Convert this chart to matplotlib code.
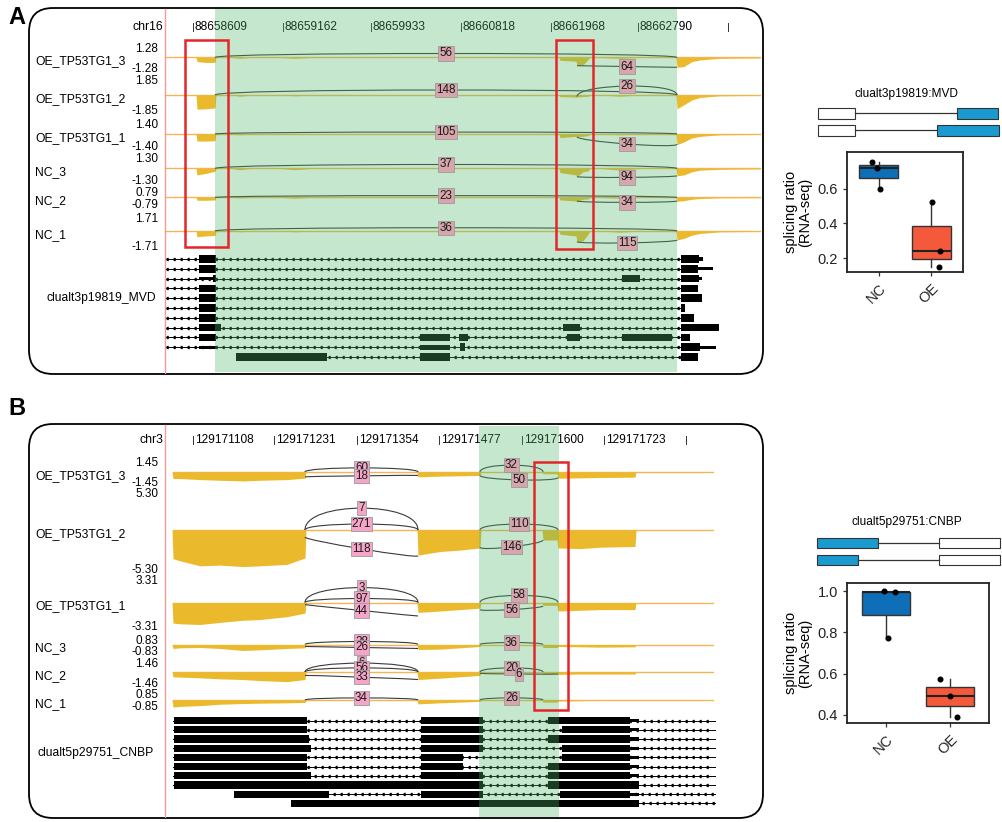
import numpy as np
import matplotlib
matplotlib.use('Agg')
import matplotlib.pyplot as plt
from matplotlib.patches import FancyBboxPatch, Rectangle, PathPatch
from matplotlib.path import Path

plt.rcParams['font.family'] = ['Liberation Sans', 'DejaVu Sans']

W, H = 1003, 822

# ---------------- data ----------------
samples = ['OE_TP53TG1_3', 'OE_TP53TG1_2', 'OE_TP53TG1_1', 'NC_3', 'NC_2', 'NC_1']

# panel A (chr16, MVD)
chrom_A = 'chr16'
ticks_A = [193, 283, 371, 461, 551, 638, 728]
tick_labels_A = ['88658609', '88659162', '88659933', '88660818', '88661968', '88662790', '']
ymax_A = [1.28, 1.85, 1.40, 1.30, 0.79, 1.71]
cov_x_A = [196, 197, 206, 215, 216, 232, 240, 250, 280, 295, 310, 559, 560, 576, 577, 583,
           588, 590, 600, 620, 640, 676, 677, 684, 692, 700, 720, 760]
cov_A = [
    [0, 0.5, 0.6, 0.6, 0, 0, 0.1, 0, 0, 0.1, 0, 0, 0.35, 0.45, 1.0, 0.9, 0.25, 0, 0, 0.1, 0, 0, 1.2, 1.1, 0.5, 0.3, 0.1, 0.05],
    [0, 1.75, 1.7, 1.6, 0, 0, 0.15, 0, 0, 0.1, 0, 0, 0.2, 0.25, 0.25, 0.2, 0.15, 0, 0, 0.15, 0, 0, 1.7, 1.2, 0.6, 0.3, 0.1, 0.05],
    [0, 0.9, 0.9, 0.85, 0, 0, 0.1, 0, 0, 0.05, 0, 0, 0.45, 0.3, 0.3, 0.3, 0.2, 0, 0, 0.1, 0, 0, 1.35, 1.0, 0.5, 0.3, 0.1, 0.05],
    [0, 0.8, 0.6, 0.35, 0, 0, 0.15, 0, 0, 0.15, 0, 0, 0.5, 0.8, 1.0, 0.4, 0.3, 0, 0, 0.2, 0, 0, 0.9, 0.8, 0.4, 0.2, 0.1, 0.05],
    [0, 0.4, 0.4, 0.35, 0, 0, 0.05, 0, 0, 0.1, 0, 0, 0.35, 0.5, 0.55, 0.25, 0.2, 0, 0, 0.1, 0, 0, 0.55, 0.45, 0.25, 0.15, 0.05, 0.03],
    [0, 0.7, 0.6, 0.55, 0, 0, 0.1, 0, 0, 0.1, 0, 0, 0.4, 0.6, 1.3, 1.2, 0.4, 0, 0, 0.15, 0, 0, 1.1, 0.9, 0.5, 0.3, 0.1, 0.05],
]
baseline_A = [165, 760]
arc_track_A = [0, 0, 1, 1, 2, 2, 3, 3, 4, 4, 5, 5]
arc_x0_A = [215, 577] * 6
arc_x1_A = [677, 677] * 6
arc_y0_A = [0, -1.0, 0, -0.2, 0, -0.35, 0, -1.0, 0, -0.5, 0, -1.3]
arc_y1_A = [0, -1.2, 0, 0, 0, -1.3, 0, -0.9, 0, -0.5, 0, -1.1]
arc_peak_A = [0.49, -1.1, 0.62, 1.1, 0.25, -1.27, 0.5, -1.1, 0.28, -0.7, 0.4, -1.45]
arc_n_A = [56, 64, 148, 26, 105, 34, 37, 94, 23, 34, 36, 115]
tx_name_A = 'clualt3p19819_MVD'
tx_start_A = [165] * 10 + [236]
tx_end_A = [681] * 11
tx_exons_A = [
    [(199, 216, 1), (681, 699, 1), (699, 703, 0)],
    [(199, 216, 1), (681, 698, 1), (698, 713, 0)],
    [(199, 213, 0), (213, 216, 1), (622, 640, 1), (681, 699, 1), (699, 702, 0)],
    [(199, 216, 1), (681, 698, 1)],
    [(199, 216, 1), (681, 702, 1)],
    [(199, 216, 1), (681, 685, 1)],
    [(199, 216, 1), (681, 694, 1)],
    [(199, 221, 1), (563, 580, 1), (681, 719, 1)],
    [(199, 216, 1), (420, 450, 1), (459, 468, 1), (567, 580, 1), (622, 672, 1), (681, 690, 1)],
    [(199, 216, 0), (420, 450, 0.7), (460, 465, 1), (681, 700, 1), (700, 716, 0)],
    [(236, 327, 1), (420, 450, 1), (681, 698, 1)],
]
green_A = [215, 677]
red_boxes_A = [(185, 40, 228, 247), (556, 40, 593, 249)]

# panel B (chr3, CNBP)
chrom_B = 'chr3'
ticks_B = [193, 274, 357, 439, 522, 604, 686]
tick_labels_B = ['129171108', '129171231', '129171354', '129171477', '129171600', '129171723', '']
ymax_B = [1.45, 5.30, 3.31, 0.83, 1.46, 0.85]
cov_x_B = [172, 173, 180, 200, 220, 243, 260, 287, 305, 306, 417, 418, 440, 460, 480, 481,
           542, 543, 557, 558, 580, 600, 635, 636, 713]
cov_B = [
    [0, 0.95, 0.95, 1.1, 1.2, 1.3, 1.2, 1.1, 0.9, 0, 0, 0.7, 0.6, 0.55, 0.5, 0, 0, 0.25, 0.25, 0.9, 0.85, 0.8, 0.75, 0, 0],
    [0, 4.0, 4.3, 5.0, 4.9, 5.1, 5.0, 4.8, 3.9, 0, 0, 3.5, 3.0, 2.8, 2.5, 0, 0, 1.4, 1.4, 2.5, 2.6, 2.4, 2.3, 0, 0],
    [0, 2.9, 3.0, 3.1, 2.8, 2.5, 2.4, 2.0, 1.5, 0, 0, 1.4, 1.2, 1.0, 0.8, 0, 0, 0.4, 0.4, 1.2, 1.1, 1.0, 1.0, 0, 0],
    [0, 0.6, 0.5, 0.45, 0.6, 0.9, 0.8, 0.6, 0.5, 0, 0, 0.75, 0.7, 0.5, 0.3, 0, 0, 0.45, 0.45, 0.3, 0.35, 0.4, 0.35, 0, 0],
    [0, 0.7, 0.75, 0.85, 1.0, 1.1, 1.25, 1.4, 1.1, 0, 0, 1.1, 0.9, 0.7, 0.5, 0, 0, 0.25, 0.25, 0.35, 0.3, 0.3, 0.3, 0, 0],
    [0, 1.0, 0.9, 0.8, 0.6, 0.5, 0.45, 0.4, 0.35, 0, 0, 0.55, 0.4, 0.3, 0.2, 0, 0, 0.3, 0.3, 0.15, 0.1, 0, 0, 0, 0],
]
baseline_B = [173, 713]
arc_track_B = [0, 0, 0, 0, 1, 1, 1, 1, 1, 2, 2, 2, 2, 2, 3, 3, 3, 4, 4, 4, 4, 4, 5, 5]
arc_x0_B = [305, 305, 480, 480, 305, 305, 305, 480, 480, 305, 305, 305, 480, 480,
            305, 305, 480, 305, 305, 305, 480, 480, 305, 480]
arc_x1_B = [418, 418, 543, 558, 418, 418, 418, 558, 543, 418, 418, 418, 558, 543,
            418, 418, 543, 418, 418, 418, 543, 558, 418, 543]
arc_y0_B = [0, -0.7, 0, -0.5, 0, 0, -1.0, 0, -2.4, 0, 0, -0.3, 0, -1.0,
            0, -0.3, 0, 0, 0, -0.5, 0, -0.2, 0, 0]
arc_y1_B = [0, -0.5, 0, -0.8, 0, 0, -3.6, 0, -1.4, 0, 0, -1.9, 0, -0.5,
            0, -0.6, 0, 0, 0, -1.1, 0, -0.3, 0, 0]
arc_peak_B = [0.6, -0.55, 1.0, -1.15, 3.05, 0.83, -2.64, 0.83, -2.35, 2.1, 0.56, -1.13, 1.0, -1.0,
              0.45, -0.45, 0.3, 1.3, 0.6, -0.75, 0.6, -0.3, 0.3, 0.3]
arc_n_B = [60, 18, 32, 50, 7, 271, 118, 110, 146, 3, 97, 44, 58, 56,
           28, 26, 36, 6, 56, 33, 20, 6, 34, 26]
tx_name_B = 'clualt5p29751_CNBP'
tx_start_B = [173] * 8 + [234, 291]
tx_end_B = [715] * 10
tx_exons_B = [
    [(174, 307, 1), (421, 483, 1), (548, 630, 1), (630, 639, 0)],
    [(174, 307, 1), (421, 483, 1), (562, 630, 1), (630, 639, 0)],
    [(174, 309, 1), (421, 483, 1), (548, 630, 1), (630, 639, 0)],
    [(174, 311, 1), (421, 483, 1), (562, 630, 1), (630, 639, 0)],
    [(174, 307, 1), (421, 463, 1), (562, 630, 1), (630, 639, 0)],
    [(174, 307, 1), (421, 463, 1), (548, 630, 1), (630, 639, 0)],
    [(174, 311, 1), (421, 483, 1), (548, 630, 1), (630, 639, 0)],
    [(174, 483, 1), (548, 639, 1)],
    [(234, 329, 1), (421, 483, 1), (560, 630, 1), (630, 639, 0)],
    [(291, 639, 1)],
]
green_B = [479, 559]
red_boxes_B = [(534, 462, 568, 710)]

# splicing ratio box plots
groups = ['NC', 'OE']
ratio_A_NC = [0.60, 0.72, 0.755]
ratio_A_OE = [0.15, 0.24, 0.525]
jit_A_NC = [0.02, -0.04, -0.13]
jit_A_OE = [0.15, 0.17, 0.02]
ratio_B_NC = [0.772, 0.997, 1.0]
ratio_B_OE = [0.39, 0.492, 0.574]
jit_B_NC = [0.03, 0.14, -0.03]
jit_B_OE = [0.1, 0.0, -0.16]
event_A = 'clualt3p19819:MVD'
event_B = 'clualt5p29751:CNBP'
# isoform cartoons: (left box, right box, blue side)
iso_A = [[(818, 855, 'w'), (957, 998, 'b')], [(818, 855, 'w'), (937, 999, 'b')]]
iso_B = [[(817, 878, 'b'), (939, 1000, 'w')], [(817, 858, 'b'), (939, 1000, 'w')]]

YELLOW = '#EBBA2C'
BASE = '#F5B556'
PINK = '#F5A6C8'
PINK_IN_GREEN = '#D7A5AC'
GREEN = '#4FB869'
NC_COL = '#0F6EB8'
OE_COL = '#F4593C'
ISO_BLUE = '#1B9AD0'

fig = plt.figure(figsize=(W / 100, H / 100), dpi=100)


def px_axes(x0, y0, x1, y1, **kw):
    return fig.add_axes([x0 / W, 1 - y1 / H, (x1 - x0) / W, (y1 - y0) / H], **kw)


bg = px_axes(0, 0, W, H)
bg.set_xlim(0, W)
bg.set_ylim(H, 0)
bg.axis('off')


def sashimi_panel(letter, ly, frame, chrom, hdr_y, ticks, tick_labels, ymax, spans,
                  cov_x, cov, baseline, arcs, tx, tx_rows, tx_name, tx_name_xy, green, red_boxes):
    fx0, fy0, fx1, fy1 = frame
    bg.text(8, ly, letter, fontsize=17, fontweight='bold', va='center', ha='left')
    bg.add_patch(FancyBboxPatch((fx0, fy0), fx1 - fx0, fy1 - fy0,
                                boxstyle='round,pad=0,rounding_size=24',
                                fc='white', ec='black', lw=1.3, zorder=1))
    # genomic header
    bg.text(163, hdr_y, chrom, ha='right', va='center', fontsize=8.8, zorder=3)
    for t, lab in zip(ticks, tick_labels):
        bg.plot([t, t], [hdr_y - 4, hdr_y + 4], color='#333333', lw=0.7, zorder=3)
        bg.text(t + 2, hdr_y, lab, ha='left', va='center', fontsize=8.6, zorder=3)

    arc_track, arc_x0, arc_x1, arc_y0, arc_y1, arc_peak, arc_n = arcs
    labels = []
    for i, (name, v, (t0, t1)) in enumerate(zip(samples, ymax, spans)):
        ax = px_axes(165, t0, fx1, t1)
        ax.set_xlim(165, fx1)
        ax.set_ylim(-v, v)
        ax.patch.set_alpha(0)
        for s in ['top', 'right', 'bottom']:
            ax.spines[s].set_visible(False)
        ax.spines['left'].set_color('#999999')
        ax.spines['left'].set_linewidth(0.6)
        ax.set_xticks([])
        ax.set_yticks([v, -v])
        ax.set_yticklabels([f'{v:.2f}', f'{-v:.2f}'], fontsize=8.5)
        ax.tick_params(axis='y', length=0, pad=5)
        ax.plot(baseline, [0, 0], color=BASE, lw=1.0, zorder=1, clip_on=False)
        ax.fill_between(cov_x, 0, -np.array(cov[i]), color=YELLOW, lw=0, zorder=2, clip_on=False)
        for k in range(len(arc_track)):
            if arc_track[k] != i:
                continue
            x0, x1, y0, y1 = arc_x0[k], arc_x1[k], arc_y0[k], arc_y1[k]
            h = (arc_peak[k] - (y0 + y1) / 2) / 0.75
            path = Path([(x0, y0), (x0, y0 + h), (x1, y1 + h), (x1, y1)],
                        [Path.MOVETO, Path.CURVE4, Path.CURVE4, Path.CURVE4])
            ax.add_patch(PathPatch(path, fc='none', ec='#3a3a3a', lw=0.8, zorder=3, clip_on=False))
            labels.append((ax, (x0 + x1) / 2, arc_peak[k], arc_n[k]))
        bg.text(35, (t0 + t1) / 2 + 4, name, ha='left', va='center', fontsize=8.7)

    # transcripts
    tx_start, tx_end, tx_exons = tx
    r0, r1 = tx_rows
    n = len(tx_exons)
    tax = px_axes(165, r0, fx1, r1)
    tax.set_xlim(165, fx1)
    tax.set_ylim(n - 0.5, -0.5)
    tax.axis('off')
    tax.patch.set_alpha(0)
    for r, (s, e, exs) in enumerate(zip(tx_start, tx_end, tx_exons)):
        tax.plot([s, e], [r, r], color='black', lw=0.7, zorder=1)
        ax_pos = np.arange(s + 3, e, 7)
        tax.plot(ax_pos, [r] * len(ax_pos), ls='none',
                 marker=8, ms=2.0, color='black', zorder=1)
        for (a, b, thick) in exs:
            hh = 0.78 if thick == 1 else (0.55 if thick == 0.7 else 0.34)
            tax.add_patch(Rectangle((a, r - hh / 2), b - a, hh, fc='black', ec='none', zorder=2))
    bg.text(tx_name_xy[0], tx_name_xy[1], tx_name, ha='left', va='center', fontsize=8.7)

    # overlay: highlighted region, red line, junction counts, red boxes
    ov = px_axes(fx0, fy0, fx1, fy1)
    ov.set_xlim(fx0, fx1)
    ov.set_ylim(fy1, fy0)
    ov.axis('off')
    ov.patch.set_alpha(0)
    ov.add_patch(Rectangle((green[0], fy0 + 1.5), green[1] - green[0], fy1 - fy0 - 3,
                           fc=GREEN, alpha=0.33, ec='none', zorder=5))
    ov.plot([165, 165], [fy0 + 1, fy1 - 1], color='#F39C9C', lw=1.0, zorder=6)
    for (ax, x, y, cnt) in labels:
        fc = PINK_IN_GREEN if green[0] < x < green[1] else PINK
        ov.text(x, y, str(cnt), ha='center', va='center', fontsize=8.4, zorder=7,
                transform=ax.transData, clip_on=False, color='#1a1a1a',
                bbox=dict(boxstyle='square,pad=0.1', fc=fc, ec='#9a9a9a', lw=0.6))
    for (a, b, c, d) in red_boxes:
        ov.add_patch(Rectangle((a, b), c - a, d - b, fc='none', ec='#E3262B', lw=1.8, zorder=8))


spans_A = list(zip([47, 80, 123, 158, 192, 217], [68, 110, 145, 179, 203, 245]))
spans_B = list(zip([462, 492, 579, 639, 662, 694], [482, 568, 626, 650, 682, 706]))

sashimi_panel('A', 18, (29, 8, 763, 374), chrom_A, 27, ticks_A, tick_labels_A, ymax_A, spans_A,
              cov_x_A, cov_A, baseline_A,
              (arc_track_A, arc_x0_A, arc_x1_A, arc_y0_A, arc_y1_A, arc_peak_A, arc_n_A),
              (tx_start_A, tx_end_A, tx_exons_A), (254, 362), tx_name_A, (47, 298),
              green_A, red_boxes_A)
sashimi_panel('B', 408, (29, 424, 763, 818), chrom_B, 440, ticks_B, tick_labels_B, ymax_B, spans_B,
              cov_x_B, cov_B, baseline_B,
              (arc_track_B, arc_x0_B, arc_x1_B, arc_y0_B, arc_y1_B, arc_peak_B, arc_n_B),
              (tx_start_B, tx_end_B, tx_exons_B), (716, 808), tx_name_B, (38, 753),
              green_B, red_boxes_B)


def iso_panel(title, title_y, iso, rows_y, hh):
    bg.text(907, title_y, title, ha='center', va='center', fontsize=8.6)
    for row, y in zip(iso, rows_y):
        (a0, a1, c0), (b0, b1, c1) = row
        bg.plot([a1, b0], [y, y], color='#333333', lw=0.9)
        for (p, q, c) in row:
            bg.add_patch(Rectangle((p, y - hh / 2), q - p, hh,
                                   fc=ISO_BLUE if c == 'b' else 'white', ec='#333333', lw=0.8))


iso_panel(event_A, 94, iso_A, [113.5, 130.5], 11)
iso_panel(event_B, 522, iso_B, [543, 560], 10)


def ratio_box(rect, nc, oe, jn, jo, ylim, yticks):
    ax = px_axes(*rect)
    bp = ax.boxplot([nc, oe], positions=[1, 2], widths=0.75, patch_artist=True,
                    showfliers=False, showcaps=False,
                    medianprops=dict(color='#222222', lw=1.5),
                    boxprops=dict(ec='#333333', lw=1.0),
                    whiskerprops=dict(color='#333333', lw=1.0))
    for patch, c in zip(bp['boxes'], [NC_COL, OE_COL]):
        patch.set_facecolor(c)
    ax.scatter(1 + np.array(jn), nc, s=11, color='black', zorder=3)
    ax.scatter(2 + np.array(jo), oe, s=11, color='black', zorder=3)
    ax.set_xlim(0.4, 2.6)
    ax.set_ylim(*ylim)
    ax.set_yticks(yticks)
    ax.set_yticklabels([f'{t:.1f}' for t in yticks])
    ax.set_xticks([1, 2])
    ax.set_xticklabels(groups, rotation=45, ha='right', rotation_mode='anchor')
    ax.tick_params(labelsize=10.5, length=3, width=0.9, colors='#333333', labelcolor='#222222')
    for s in ax.spines.values():
        s.set_linewidth(1.3)
        s.set_color('#222222')
    ax.set_ylabel('splicing ratio\n(RNA-seq)', fontsize=10.5, labelpad=4, linespacing=1.0)
    return ax


ratio_box((847, 152, 963, 272), ratio_A_NC, ratio_A_OE, jit_A_NC, jit_A_OE, (0.12, 0.81), [0.2, 0.4, 0.6])
ratio_box((847, 583, 989, 723), ratio_B_NC, ratio_B_OE, jit_B_NC, jit_B_OE, (0.36, 1.04), [0.4, 0.6, 0.8, 1.0])

fig.savefig('out.png', dpi=100)
